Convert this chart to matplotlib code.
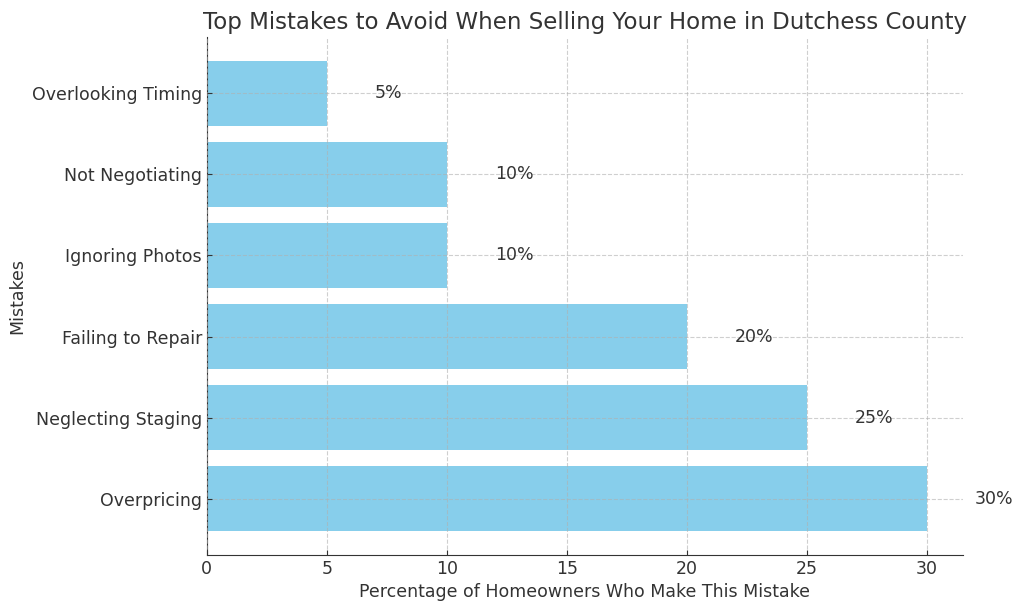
import matplotlib
matplotlib.use("Agg")
import matplotlib.pyplot as plt

mistakes = ["Overpricing", "Neglecting Staging", "Failing to Repair",
            "Ignoring Photos", "Not Negotiating", "Overlooking Timing"]
percentages = [30, 25, 20, 10, 10, 5]

text_color = "#333333"
plt.rcParams["font.family"] = ["DejaVu Sans"]
plt.rcParams["text.color"] = text_color
plt.rcParams["axes.labelcolor"] = text_color
plt.rcParams["xtick.color"] = text_color
plt.rcParams["ytick.color"] = text_color
plt.rcParams["xtick.direction"] = "in"
plt.rcParams["ytick.direction"] = "in"

fig, ax = plt.subplots(figsize=(10.24, 6.11), dpi=100)
fig.subplots_adjust(left=0.202, right=0.940, top=0.939, bottom=0.092)

ax.barh(mistakes, percentages, color="skyblue", height=0.8)

# value labels to the right of each bar
for i, v in enumerate(percentages):
    ax.text(v + 2, i, f"{v}%", va="center", fontsize=12.5)

ax.set_title("Top Mistakes to Avoid When Selling Your Home in Dutchess County", fontsize=16.5)
ax.set_xlabel("Percentage of Homeowners Who Make This Mistake", fontsize=12.5)
ax.set_ylabel("Mistakes", fontsize=12.5)
ax.tick_params(labelsize=12.5)
ax.set_axisbelow(False)
ax.grid(True, linestyle="--", color="#b0b0b0", linewidth=0.8, alpha=0.6)
ax.spines["top"].set_visible(False)
ax.spines["right"].set_visible(False)
ax.spines["left"].set_color(text_color)
ax.spines["bottom"].set_color(text_color)

fig.savefig("out.png", dpi=100)
